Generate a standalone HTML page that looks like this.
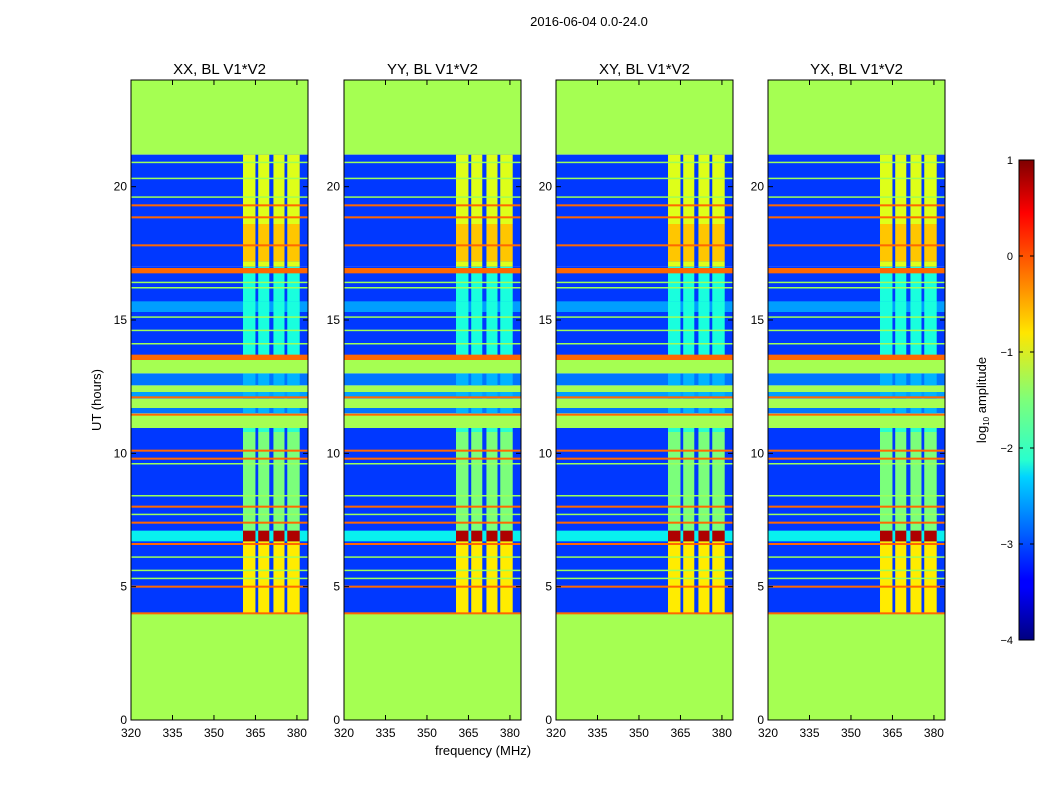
<!DOCTYPE html>
<html><head><meta charset="utf-8"><style>
body{margin:0;background:#fff;width:1050px;height:800px;overflow:hidden}
svg text{font-family:"Liberation Sans",sans-serif;fill:#000}
</style></head><body>
<svg id="fig" width="1050" height="800" xmlns="http://www.w3.org/2000/svg">
<defs>
<linearGradient id="jetg" x1="0" y1="1" x2="0" y2="0">
<stop offset="0" stop-color="#00007f"/><stop offset="0.11" stop-color="#0000ff"/><stop offset="0.125" stop-color="#0000ff"/>
<stop offset="0.34" stop-color="#00d4ff"/><stop offset="0.375" stop-color="#29ffce"/>
<stop offset="0.5" stop-color="#7dff7a"/><stop offset="0.64" stop-color="#ffe600"/>
<stop offset="0.75" stop-color="#ff8000"/><stop offset="0.89" stop-color="#ff0000"/><stop offset="1" stop-color="#7f0000"/>
</linearGradient>
</defs>
<text x="589" y="26" font-size="13" text-anchor="middle">2016-06-04 0.0-24.0</text>
<text transform="translate(101,400) rotate(-90)" font-size="13" text-anchor="middle">UT (hours)</text>
<text x="483" y="755" font-size="13" text-anchor="middle">frequency (MHz)</text>
</svg>
<script>
const panelTitles=["XX, BL V1*V2","YY, BL V1*V2","XY, BL V1*V2","YX, BL V1*V2"];
const xTicks=[320,335,350,365,380];
const yTicks=[0,5,10,15,20];
const cbTicks=[1,0,-1,-2,-3,-4];
const channels=[[360.5,365],[366,370],[371.5,375.5],[376.5,381]];
// bands: [startHour,endHour,backgroundLevel,channelLevel]
const bands=[[0,4,-1.25,-1.25],[21.2,24,-1.25,-1.25],
[4.0,10.8,-3.1,-1.5],[4.0,7.0,-3.1,-0.7],[6.7,7.1,-2.2,0.8],[10.8,10.95,-3.1,-2],
[10.95,11.5,-1.25,-1.25],[11.5,11.7,-2.8,-2.5],[11.7,12.05,-1.25,-1.25],[12.05,12.3,-2.6,-2.5],
[12.3,12.55,-1.25,-1.25],[12.55,13.0,-2.8,-2.5],[13.0,13.5,-1.25,-1.25],
[13.6,17.0,-3.1,-2.1],[15.3,15.7,-2.6,-2.1],[17.0,21.2,-3.1,-0.9],[17.2,18.6,-3.1,-0.5]];
const orangeLines=[4.0,5.0,6.6,7.4,8.0,9.8,10.1,11.45,12.1,16.8,17.8,18.85,19.3];
const greenLines=[5.3,5.6,6.1,7.7,8.4,9.6,14.1,14.6,15.1,16.2,16.4,19.6,20.3,20.9];
const thickLines=[[13.5,13.7],[16.75,16.95]];

const NS="http://www.w3.org/2000/svg";
const figSvg=document.getElementById('fig');
function interp(pts,t){for(let k=1;k<pts.length;k++){if(t<=pts[k][0]){const a=pts[k-1],b=pts[k];return a[1]+(b[1]-a[1])*(t-a[0])/(b[0]-a[0]);}}return pts[pts.length-1][1];}
const RP=[[0,0],[0.35,0],[0.66,1],[0.89,1],[1,0.5]],GP=[[0,0],[0.125,0],[0.375,1],[0.64,1],[0.91,0],[1,0]],BP=[[0,0.5],[0.11,1],[0.34,1],[0.65,0],[1,0]];
function jet(v){let t=(v+4)/5;t=Math.max(0,Math.min(1,t));
 const r=interp(RP,t),g=interp(GP,t),b=interp(BP,t);
 return `rgb(${Math.round(r*255)},${Math.round(g*255)},${Math.round(b*255)})`;}
function el(tag,attrs,parent){const e=document.createElementNS(NS,tag);for(const k in attrs)e.setAttribute(k,attrs[k]);(parent||figSvg).appendChild(e);return e;}
const lefts=[131,344,556,768],W=177,topY=80,botY=720;
const yS=h=>botY-(h/24)*(botY-topY);
panelTitles.forEach((title,i)=>{
 const L=lefts[i];const xS=f=>L+(f-320)*W/64;
 const g=el('g',{});
 
 
 bands.forEach(b=>{
  const r=el('rect',{x:L,y:yS(b[1]),width:W,height:yS(b[0])-yS(b[1]),fill:jet(b[2])},g);
  
  
  if(b[3]!==b[2]) channels.forEach(c=>{
   const cr=el('rect',{x:xS(c[0]),y:yS(b[1]),width:xS(c[1])-xS(c[0]),height:yS(b[0])-yS(b[1]),fill:jet(b[3])},g);
   
   
  });
 });
 greenLines.forEach(h=>{const l=el('rect',{x:L,y:yS(h)-1,width:W,height:1.5,fill:jet(-1.3)},g);
  
  });
 orangeLines.forEach(h=>{const l=el('rect',{x:L,y:yS(h)-1,width:W,height:2,fill:jet(0)},g);
  
  });
 thickLines.forEach(t=>{const l=el('rect',{x:L,y:yS(t[1]),width:W,height:yS(t[0])-yS(t[1]),fill:jet(0)},g);
  
  });
 el('rect',{x:L,y:topY,width:W,height:botY-topY,fill:'none',stroke:'#000','stroke-width':1},g);
 const t=el('text',{x:L+W/2,y:74,'font-size':15,'text-anchor':'middle'},g);t.textContent=title;
 
 
 xTicks.forEach(v=>{const x=xS(v);
  el('line',{x1:x,x2:x,y1:botY,y2:botY-5,stroke:'#000'},g);el('line',{x1:x,x2:x,y1:topY,y2:topY+5,stroke:'#000'},g);
  const tx=el('text',{x:x,y:737,'font-size':12,'text-anchor':'middle'},g);tx.textContent=v;
  
  });
 yTicks.forEach(v=>{const y=yS(v);
  el('line',{x1:L,x2:L+5,y1:y,y2:y,stroke:'#000'},g);el('line',{x1:L+W,x2:L+W-5,y1:y,y2:y,stroke:'#000'},g);
  const ty=el('text',{x:L-4,y:y+4,'font-size':12,'text-anchor':'end'},g);ty.textContent=v;
  
  });
});
const cb=el('rect',{x:1019,y:160,width:15,height:480,fill:'url(#jetg)',stroke:'#000'});


cbTicks.forEach(v=>{const y=160+(1-v)/5*480;
 el('line',{x1:1019,x2:1023,y1:y,y2:y,stroke:'#000'});el('line',{x1:1034,x2:1030,y1:y,y2:y,stroke:'#000'});
 const t=el('text',{x:1013,y:y+4,'font-size':11,'text-anchor':'end'});t.textContent=(v<0?'\u2212'+(-v):v);
 
 });
const cl=el('text',{transform:'translate(986,400) rotate(-90)','font-size':13,'text-anchor':'middle'});
cl.innerHTML='log<tspan font-size="8" dy="3">10</tspan><tspan dy="-3"> amplitude</tspan>';


</script>
</body></html>
